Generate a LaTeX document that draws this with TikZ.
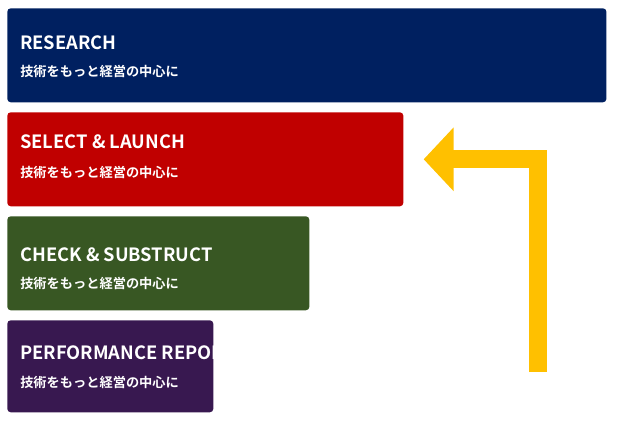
\documentclass[tikz,border=0pt]{standalone}
\usepackage{tikz}
\usetikzlibrary{arrows.meta,positioning,calc}
\usepackage{xcolor}
\usepackage{fontspec}
\setmainfont{Noto Sans CJK JP}[BoldFont={* Bold}]
\definecolor{ResNavy}{RGB}{0,32,96}
\definecolor{SelRed}{RGB}{192,0,0}
\definecolor{ChkGreen}{RGB}{56,87,35}
\definecolor{PerfPurple}{RGB}{56,24,80}
\definecolor{ArrowGold}{RGB}{255,192,0}

\begin{document}
\begin{tikzpicture}[x=0.025cm,y=-0.025cm,
    stage/.style={rounded corners=2.5pt,inner sep=0pt,anchor=north west,minimum height=2.35cm},
    stagetitle/.style={anchor=base west,inner sep=0pt,text=white,font=\fontsize{13}{15}\selectfont\bfseries},
    stagesub/.style={anchor=base west,inner sep=0pt,text=white,font=\fontsize{9.4}{11}\selectfont\bfseries}]
  \useasboundingbox (0,0) rectangle (617,428);
  % Research box
  \node[stage,fill=ResNavy,minimum width=14.975cm] (res) at (7,8) {};
  \node[stagetitle] (restitle) at ([shift={(13,41.5)}]res.north west) {RESEARCH};
  \node[stagesub] (ressub) at ([shift={(13,68)}]res.north west) {技術をもっと経営の中心に};
  % Select & launch box
  \node[stage,fill=SelRed,minimum width=9.9cm] (sel) at (7,112) {};
  \node[stagetitle] (seltitle) at ([shift={(13,36.5)}]sel.north west) {SELECT \& LAUNCH};
  \node[stagesub] (selsub) at ([shift={(13,65)}]sel.north west) {技術をもっと経営の中心に};
  % Check & substruct box
  \node[stage,fill=ChkGreen,minimum width=7.55cm] (chk) at (7,216) {};
  \node[stagetitle] (chktitle) at ([shift={(13,45)}]chk.north west) {CHECK \& SUBSTRUCT};
  \node[stagesub] (chksub) at ([shift={(13,72.5)}]chk.north west) {技術をもっと経営の中心に};
  % Performance report box (title cut at the edge)
  \node[stage,fill=PerfPurple,minimum width=5.15cm,minimum height=2.3cm] (perf) at (7,320) {};
  \begin{scope}
    \clip[rounded corners=2.5pt] (perf.north west) rectangle (perf.south east);
    \node[stagetitle] (perftitle) at ([shift={(13,39)}]perf.north west) {PERFORMANCE REPORT};
  \end{scope}
  \node[stagesub] (perfsub) at ([shift={(13,67.5)}]perf.north west) {技術をもっと経営の中心に};
  % Feedback arrow
  \coordinate (arrowfoot) at (538,372);
  \coordinate (arrowtip) at ([xshift=0.5cm]sel.east);
  \draw[ArrowGold,line width=12.8pt,-{Triangle[length=21.3pt,width=44.1pt]}]
    (arrowfoot) |- (arrowtip);
\end{tikzpicture}
\end{document}
